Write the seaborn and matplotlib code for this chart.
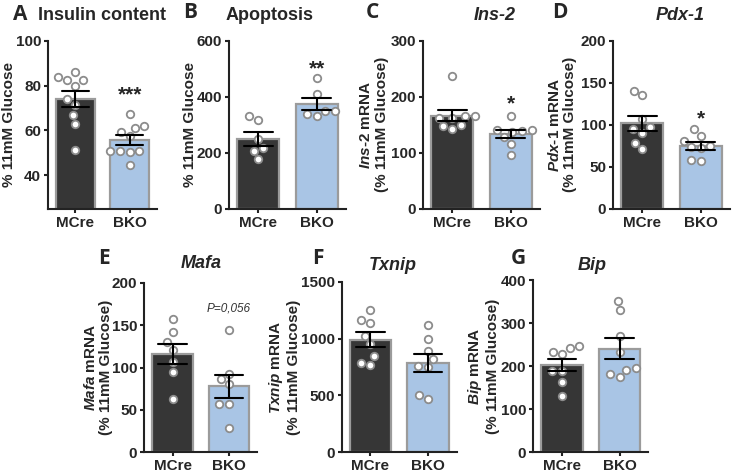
import pandas as pd
import seaborn as sns
import matplotlib.pyplot as plt

groups = ["MCre", "BKO"]

# values (% of 11mM glucose)
insulin_mcre = [82.3, 80.0, 82.3, 83.8, 86.2, 73.8, 71.5, 66.8, 62.8, 51.4]
insulin_bko = [67.5, 62.0, 61.0, 59.5, 57.5, 51.0, 51.0, 51.0, 50.5, 44.5]
apopt_mcre = [331, 318, 248, 217, 208, 179]
apopt_bko = [467, 410, 350, 348, 339, 332]
ins2_mcre = [237, 166, 163, 162, 165, 150, 148, 142]
ins2_bko = [165, 140, 137, 139, 141, 128, 116, 97]
pdx1_mcre = [139.8, 135.0, 106.6, 94.7, 97.8, 90.6, 78.8, 71.6]
pdx1_bko = [94.7, 86.7, 81.0, 75.0, 74.0, 72.0, 57.4, 58.2]
mafa_mcre = [157, 141.5, 130, 121, 107, 95, 63]
mafa_bko = [144, 92, 86, 80, 57, 57, 29]
txnip_mcre = [1251, 1163, 1139, 1022, 952, 846, 770, 788]
txnip_bko = [1116, 993, 893, 817, 758, 747, 471, 506]
bip_mcre = [246, 234, 227.5, 241, 189, 189, 162.5, 130]
bip_bko = [351, 329.6, 270.7, 232, 190, 196, 182.5, 174.8]

W, H = 733, 472
DARK = "#363636"
BLUE = "#9fc5ef"

sns.set_style("ticks")
plt.rcParams["font.family"] = ["Liberation Sans", "DejaVu Sans"]
plt.rcParams["font.weight"] = "bold"
plt.rcParams["mathtext.fontset"] = "custom"
plt.rcParams["mathtext.it"] = "Liberation Sans:italic:bold"
plt.rcParams["mathtext.rm"] = "Liberation Sans:bold"
plt.rcParams["mathtext.bf"] = "Liberation Sans:bold"

fig = plt.figure(figsize=(W / 100, H / 100), dpi=100)


def px(x, y):
    return x / W, 1 - y / H


def axes_px(left, top, right, bottom):
    return fig.add_axes([left / W, 1 - bottom / H, (right - left) / W, (bottom - top) / H])


panels = [
    # letter, title, italic, ylabel, ylim, yticks, mcre, bko, mark, mark y,
    # axes box, ylabel x (px), letter pos, title pos
    ("A", "Insulin content", False, "% 11mM Glucose", (25, 100), [40, 60, 80, 100],
     insulin_mcre, insulin_bko, "***", 76, (48, 40.7, 157, 209), 9, (20, 14), (102, 15)),
    ("B", "Apoptosis", False, "% 11mM Glucose", (0, 600), [0, 200, 400, 600],
     apopt_mcre, apopt_bko, "**", 499, (229.3, 40.7, 345.7, 209), 190, (190, 13), (270, 15)),
    ("C", "Ins-2", True, "$\\mathit{Ins}$-$\\mathit{2}$ mRNA\n(% 11mM Glucose)", (0, 300), [0, 100, 200, 300],
     ins2_mcre, ins2_bko, "*", 188, (423.3, 40.7, 540, 209), 374, (372, 13), (495, 15)),
    ("D", "Pdx-1", True, "$\\mathit{Pdx}$-$\\mathit{1}$ mRNA\n(% 11mM Glucose)", (0, 200), [0, 50, 100, 150, 200],
     pdx1_mcre, pdx1_bko, "*", 107, (613.3, 40.7, 730, 209), 562, (560, 13), (680, 15)),
    ("E", "Mafa", True, "$\\mathit{Mafa}$ mRNA\n(% 11mM Glucose)", (0, 200), [0, 50, 100, 150, 200],
     mafa_mcre, mafa_bko, "P=0,056", 170, (144.3, 282.7, 257.3, 452.3), 98, (104, 258), (201, 263)),
    ("F", "Txnip", True, "$\\mathit{Txnip}$ mRNA\n(% 11mM Glucose)", (0, 1500), [0, 500, 1000, 1500],
     txnip_mcre, txnip_bko, None, 0, (341.7, 281.7, 456.7, 452.3), 284, (318, 258), (393, 265)),
    ("G", "Bip", True, "$\\mathit{Bip}$ mRNA\n(% 11mM Glucose)", (0, 400), [0, 100, 200, 300, 400],
     bip_mcre, bip_bko, None, 0, (533.3, 280, 648.3, 452.3), 483, (518, 258), (592, 265)),
]

for (letter, title, italic, ylabel, ylim, yticks, mcre, bko, mark, mark_y,
     box, ylab_x, lpos, tpos) in panels:
    ax = axes_px(*box)
    df = pd.DataFrame({
        "group": ["MCre"] * len(mcre) + ["BKO"] * len(bko),
        "value": list(mcre) + list(bko),
    })
    sns.barplot(data=df, x="group", y="value", hue="group", order=groups,
                hue_order=groups, palette=[DARK, BLUE], errorbar="se",
                capsize=0.5, width=0.72, edgecolor="#9b9b9b", linewidth=1.6,
                err_kws={"color": "black", "linewidth": 1.5}, legend=False, ax=ax)
    for ln in ax.lines:
        ln.set_zorder(5)
    sns.swarmplot(data=df, x="group", y="value", order=groups, color="white",
                  edgecolor="#8c8c8c", linewidth=1.3, size=5.4, ax=ax, zorder=3)

    ax.set_xlim(-0.5, 1.5)
    ax.set_ylim(*ylim)
    ax.set_yticks(yticks)
    ax.set_xlabel("")
    ax.set_ylabel(ylabel, fontsize=11, fontweight="bold", linespacing=1.1, va="center")
    x0, _, w0, _ = ax.get_position().bounds
    ax.yaxis.set_label_coords((ylab_x / W - x0) / w0, 0.5)
    sns.despine(ax=ax)
    for s in ["left", "bottom"]:
        ax.spines[s].set_linewidth(1.5)
        ax.spines[s].set_color("#222222")
    ax.tick_params(width=1.5, length=3, pad=2, labelsize=11, color="#222222")

    if mark == "P=0,056":
        ax.text(1, mark_y, mark, ha="center", va="center", fontsize=8.5,
                fontstyle="italic", fontweight="normal", color="#333333")
    elif mark:
        ax.text(1, mark_y, mark, ha="center", va="center", fontsize=15,
                fontweight="bold")

    fig.text(*px(*lpos), letter, ha="center", va="center", fontsize=15,
             fontweight="bold", family=["Open Sans", "DejaVu Sans"])
    fig.text(*px(*tpos), title, ha="center", va="center", fontsize=13,
             fontweight="bold", fontstyle="italic" if italic else "normal")

fig.savefig("out.png", dpi=100)
